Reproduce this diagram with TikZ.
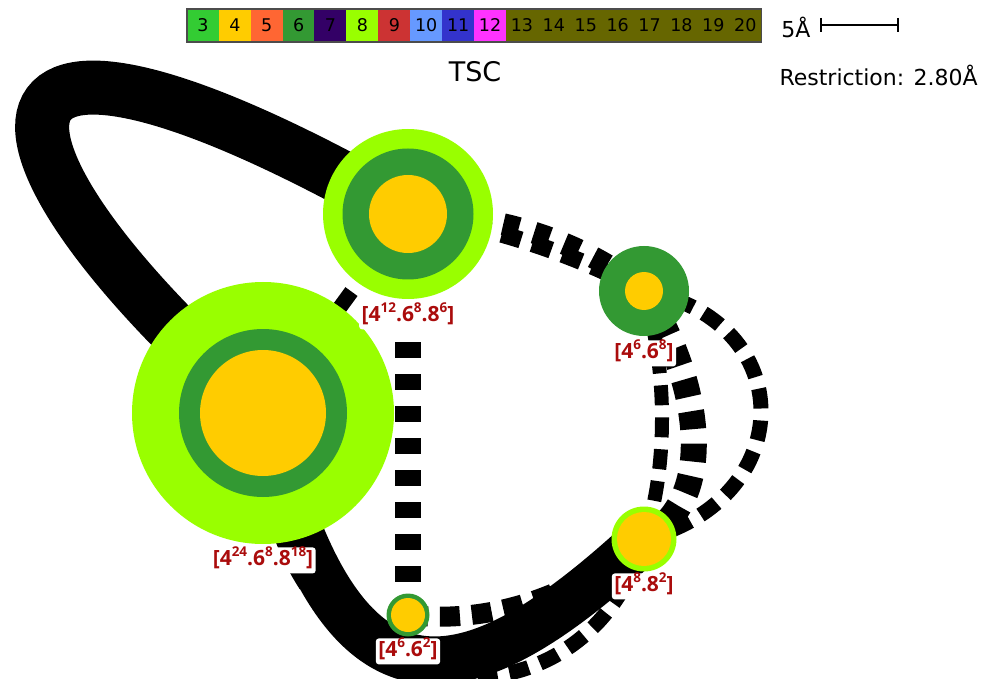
\documentclass[tikz,border=0pt]{standalone}
\usepackage{fontspec}
\setmainfont{DejaVu Sans}
\newfontfamily\tagfont{Open Sans}
\usetikzlibrary{positioning,backgrounds}
\definecolor{lvlthree}{RGB}{51,204,51}
\definecolor{lvlfour}{RGB}{255,204,0}
\definecolor{lvlfive}{RGB}{255,102,51}
\definecolor{lvlsix}{RGB}{51,153,51}
\definecolor{lvlseven}{RGB}{51,0,102}
\definecolor{lvleight}{RGB}{153,255,0}
\definecolor{lvlnine}{RGB}{204,51,51}
\definecolor{lvlten}{RGB}{102,153,255}
\definecolor{lvleleven}{RGB}{51,51,204}
\definecolor{lvltwelve}{RGB}{255,51,255}
\definecolor{lvlmany}{RGB}{102,102,0}
\definecolor{tagred}{RGB}{170,12,12}
\newcommand{\sps}[1]{\raisebox{0.45em}{\fontsize{13.5}{13.5}\selectfont#1}}
\tikzset{
  barcell/.style={fill=#1,draw=#1,line width=.3pt,minimum width=31.9pt,minimum height=33pt,
                  inner sep=0pt,font=\fontsize{17.5}{17.5}\selectfont},
  barframe/.style={draw=black!70,line width=1.5pt},
  scalebar/.style={draw=black,line width=1.3pt},
  disc/.style={circle,inner sep=0pt,draw=none,fill=#1},
  bondwide/.style={draw=black,line width=26pt,dash pattern=on 16pt off 16pt},
  bondmid/.style={draw=black,line width=15pt,dash pattern=on 20pt off 12pt},
  band/.style={draw=black,line width=54pt},
  tag/.style={fill=white,rounded corners=3pt,inner sep=2.5pt,text height=16pt,text depth=5pt,
              text=tagred,font=\tagfont\bfseries\fontsize{21}{21}\selectfont},
}

\begin{document}
\begin{tikzpicture}[x=1pt,y=-1pt]
  \useasboundingbox (0,0) rectangle (983,679);
  % colour key
  \foreach \n/\col [count=\i from 0] in {3/lvlthree,4/lvlfour,5/lvlfive,6/lvlsix,7/lvlseven,
      8/lvleight,9/lvlnine,10/lvlten,11/lvleleven,12/lvltwelve,13/lvlmany,14/lvlmany,
      15/lvlmany,16/lvlmany,17/lvlmany,18/lvlmany,19/lvlmany,20/lvlmany}
    \node[barcell=\col] (cell\n) at ({202.95+31.9*\i},25.5) {\n};
  \draw[barframe] (cell3.north west) rectangle (cell20.south east);
  % scale and titles
  \node[font=\fontsize{22}{22}\selectfont] (five) at (796,27) {5Å};
  \coordinate (sbl) at (821,25);
  \coordinate (sbr) at (898,25);
  \draw[scalebar] (sbl) -- (sbr);
  \draw[scalebar] ([yshift=7pt]sbl) -- ([yshift=-7pt]sbl);
  \draw[scalebar] ([yshift=7pt]sbr) -- ([yshift=-7pt]sbr);
  \node[font=\fontsize{27}{27}\selectfont] (title) at (475,72) {TSC};
  \node[anchor=west,font=\fontsize{22}{22}\selectfont] (restr) at (776,75) {Restriction: 2.80Å};
  % cages
  \node[disc=lvleight,minimum size=262pt] (cagebig) at (263,413) {};
  \node[disc=lvlsix,minimum size=168pt] (cagebigmid) at (cagebig) {};
  \node[disc=lvlfour,minimum size=126pt] (cagebigcore) at (cagebig) {};
  \node[disc=lvleight,minimum size=170pt] (cagetop) at (408,214) {};
  \node[disc=lvlsix,minimum size=131pt] (cagetopmid) at (cagetop) {};
  \node[disc=lvlfour,minimum size=78pt] (cagetopcore) at (cagetop) {};
  \node[disc=lvlsix,minimum size=90pt] (cageright) at (644,291) {};
  \node[disc=lvlfour,minimum size=38pt] (cagerightcore) at (cageright) {};
  \node[disc=lvleight,minimum size=65pt] (cagecorner) at (644,539) {};
  \node[disc=lvlfour,minimum size=54pt] (cagecornercore) at (cagecorner) {};
  \node[disc=lvlsix,minimum size=43pt] (cagelow) at (408,615) {};
  \node[disc=lvlfour,minimum size=34pt] (cagelowcore) at (cagelow) {};
  \begin{scope}[on background layer]
    \fill[white] (0,0) rectangle (983,679);
    % dashed windows
    \draw[bondmid] (cagetop.center) -- (cagebig.center);
    \draw[bondwide] (cagetop.center) -- (cagelow.center);
    \draw[bondwide,line width=22pt] (cagetop.center) .. controls (490,213) and (580,238) .. (cageright.center);
    \draw[bondmid,line width=17pt] (cagetop.center) .. controls (490,226) and (575,254) .. (cageright.center);
    \draw[bondmid,line width=14pt] (cageright.center) .. controls (668,370) and (668,470) .. (cagecorner.center);
    \draw[bondwide,dash pattern=on 18pt off 14.5pt] (cageright.center) .. controls (700,380) and (720,500) .. (cagecorner.center);
    \draw[bondmid] (cageright.center) .. controls (800,320) and (800,500) .. (cagecorner.center);
    \draw[bondmid] (cagebig.center) .. controls (255,715) and (580,760) .. (cagecorner.center);
    \draw[bondmid,line width=20pt] (cagelow.center) .. controls (500,625) and (580,590) .. (cagecorner.center);
    % solid windows
    \draw[band] (cagetop.center) .. controls (-55,-50) and (-50,140) .. (cagebig.center);
    \draw[band,line width=48pt] (cagebig.center) .. controls (340,740) and (470,700) .. (cagecorner.center);
  \end{scope}
  % cage names
  \node[tag,below=4pt of cagetop] (tagtop) {[4\sps{12}.6\sps{8}.8\sps{6}]};
  \node[tag,below=4pt of cageright] (tagright) {[4\sps{6}.6\sps{8}]};
  \node[tag,below=3pt of cagebig] (tagbig) {[4\sps{24}.6\sps{8}.8\sps{18}]};
  \node[tag,below=1.5pt of cagecorner] (tagcorner) {[4\sps{8}.8\sps{2}]};
  \node[tag,below=1.5pt of cagelow] (taglow) {[4\sps{6}.6\sps{2}]};
\end{tikzpicture}
\end{document}
